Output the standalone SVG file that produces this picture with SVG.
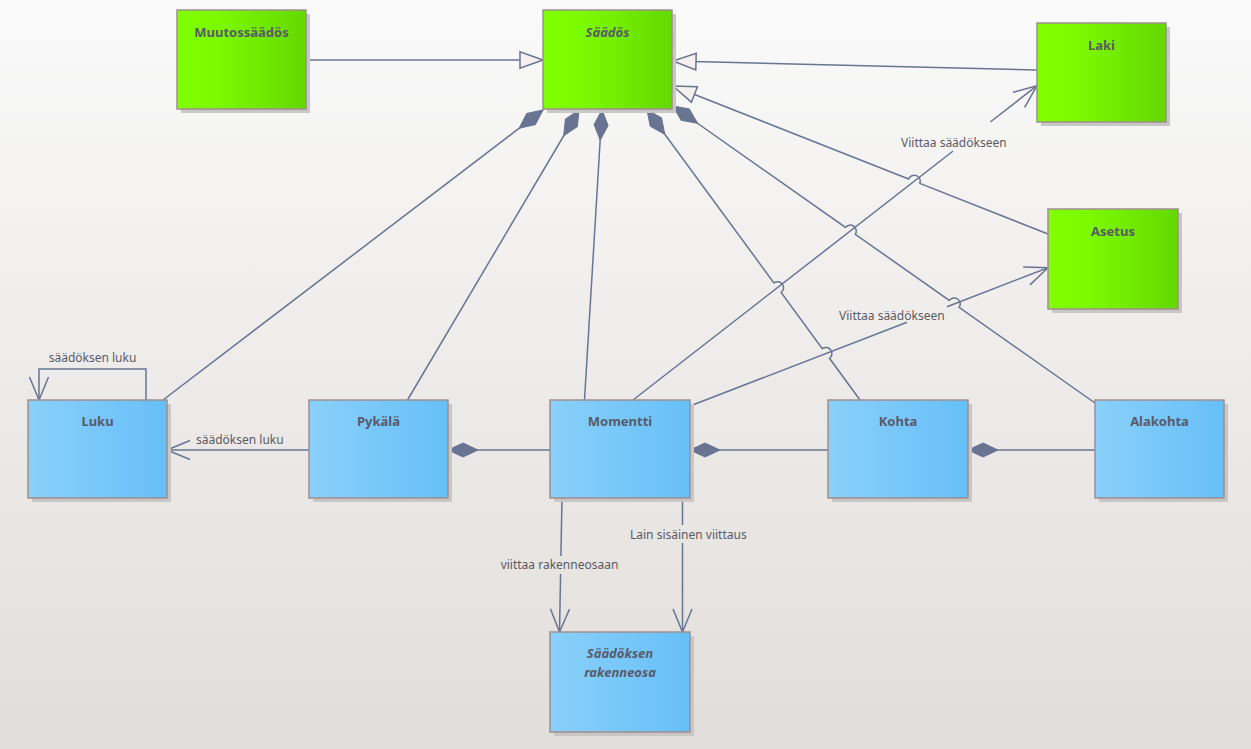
<svg xmlns="http://www.w3.org/2000/svg" width="1251" height="749" viewBox="0 0 1251 749">
<defs>
<linearGradient id="bg" x1="0" y1="0" x2="0" y2="1">
<stop offset="0" stop-color="#fafafa"/>
<stop offset="1" stop-color="#e1ddda"/>
</linearGradient>
<linearGradient id="green" x1="0" y1="0" x2="1" y2="0">
<stop offset="0" stop-color="#80ff00"/>
<stop offset="0.3" stop-color="#7cfb00"/>
<stop offset="1" stop-color="#64d800"/>
</linearGradient>
<linearGradient id="blue" x1="0" y1="0" x2="1" y2="0">
<stop offset="0" stop-color="#8ad0fa"/>
<stop offset="1" stop-color="#66bff8"/>
</linearGradient>
<marker id="tri" markerUnits="userSpaceOnUse" orient="auto-start-reverse" refX="0" refY="0" markerWidth="40" markerHeight="40" overflow="visible">
<path d="M0,0 L-23,-8.3 L-23,8.3 Z" fill="#f6f1ef" stroke="#687492" stroke-width="1.5"/>
</marker>
<marker id="dia" markerUnits="userSpaceOnUse" orient="auto" refX="0" refY="0" markerWidth="40" markerHeight="40" overflow="visible">
<path d="M0,0 L15,-7 L30,0 L15,7 Z" fill="#687492" stroke="#687492" stroke-width="1"/>
</marker>
<marker id="open" markerUnits="userSpaceOnUse" orient="auto" refX="0" refY="0" markerWidth="40" markerHeight="40" overflow="visible">
<path d="M-23,-9.5 L0,0 L-23,9.5" fill="none" stroke="#687492" stroke-width="1.5"/>
</marker>
</defs>
<style>
.shadow{fill:#c9c7c5}
.g{fill:url(#green);stroke:#a08e8e;stroke-width:1.5}
.b{fill:url(#blue);stroke:#a08e8e;stroke-width:1.5}
.t{font-family:"Noto Sans","DejaVu Sans",sans-serif;font-size:13px;font-weight:bold;fill:#5a5a68;text-anchor:middle}
.i{font-style:italic}
.c{fill:none;stroke:#687492;stroke-width:1.5}
.l{font-family:"Noto Sans","DejaVu Sans",sans-serif;font-size:12px;fill:#5a5a64}
</style>
<rect x="0" y="0" width="1251" height="749" fill="url(#bg)"/>

<g id="connectors">
<path class="c" d="M306,60 L543,60" marker-end="url(#tri)"/>
<path class="c" d="M1037,70 L673,61" marker-end="url(#tri)"/>
<path class="c" d="M673,86 L908.6,179 A6,6 0 0 1 919.8,183.4 L1048,234" marker-start="url(#tri)"/>
<path class="c" d="M543,110 L163,400" marker-start="url(#dia)"/>
<path class="c" d="M579,110 L407.5,400" marker-start="url(#dia)"/>
<path class="c" d="M602,110 L584.5,400" marker-start="url(#dia)"/>
<path class="c" d="M647,110 L773.9,282.9 A6,6 0 0 1 781.1,292.5 L822.3,348.7 A6,6 0 0 1 829.5,358.3 L860,400" marker-start="url(#dia)"/>
<path class="c" d="M673,106 L845.5,227.4 A6,6 0 0 1 855.3,234.3 L949.3,300.4 A6,6 0 0 1 959.1,307.4 L1095,403" marker-start="url(#dia)"/>
<path class="c" d="M633,400 L953.1,151 M990.3,122 L1037,85.7" marker-end="url(#open)"/>
<path class="c" d="M690,406 L907,322.2 M947,306.7 L1048,267.7" marker-end="url(#open)"/>
<path class="c" d="M448,450 L550,450" marker-start="url(#dia)"/>
<path class="c" d="M690,450 L828,450" marker-start="url(#dia)"/>
<path class="c" d="M968,450 L1095,450" marker-start="url(#dia)"/>
<path class="c" d="M309,450 L167,450" marker-end="url(#open)"/>
<path class="c" d="M146,400 L146,369 L39,369 L39,400" marker-end="url(#open)"/>
<path class="c" d="M562,499 L560.9,556 M560.6,574 L559.5,632" marker-end="url(#open)"/>
<path class="c" d="M682.5,499 L682.5,525 M682.5,543 L682.5,632" marker-end="url(#open)"/>
<text class="l" x="901" y="147">Viittaa säädökseen</text>
<text class="l" x="839" y="320">Viittaa säädökseen</text>
<text class="l" x="92.5" y="362" text-anchor="middle">säädöksen luku</text>
<text class="l" x="196" y="444">säädöksen luku</text>
<text class="l" x="559.5" y="569" text-anchor="middle">viittaa rakenneosaan</text>
<text class="l" x="630" y="539">Lain sisäinen viittaus</text>
</g>

<g id="muutossaados">
<rect class="shadow" x="181" y="14" width="129" height="99"/>
<rect class="g" x="177" y="10" width="129" height="99"/>
<text class="t" x="241.5" y="37">Muutossäädös</text>
</g>
<g id="saados">
<rect class="shadow" x="547" y="14" width="129" height="99"/>
<rect class="g" x="543" y="10" width="129" height="99"/>
<text class="t i" x="607.5" y="37">Säädös</text>
</g>
<g id="laki">
<rect class="shadow" x="1041" y="27" width="129" height="99"/>
<rect class="g" x="1037" y="23" width="129" height="99"/>
<text class="t" x="1101.5" y="50">Laki</text>
</g>
<g id="asetus">
<rect class="shadow" x="1052" y="213" width="130" height="100"/>
<rect class="g" x="1048" y="209" width="130" height="100"/>
<text class="t" x="1113" y="236">Asetus</text>
</g>
<g id="luku">
<rect class="shadow" x="32" y="404" width="139" height="98"/>
<rect class="b" x="28" y="400" width="139" height="98"/>
<text class="t" x="97.5" y="426">Luku</text>
</g>
<g id="pykala">
<rect class="shadow" x="313" y="404" width="139" height="98"/>
<rect class="b" x="309" y="400" width="139" height="98"/>
<text class="t" x="378.5" y="426">Pykälä</text>
</g>
<g id="momentti">
<rect class="shadow" x="554" y="404" width="140" height="98"/>
<rect class="b" x="550" y="400" width="140" height="98"/>
<text class="t" x="620" y="426">Momentti</text>
</g>
<g id="kohta">
<rect class="shadow" x="832" y="404" width="140" height="98"/>
<rect class="b" x="828" y="400" width="140" height="98"/>
<text class="t" x="898" y="426">Kohta</text>
</g>
<g id="alakohta">
<rect class="shadow" x="1099" y="404" width="129" height="98"/>
<rect class="b" x="1095" y="400" width="129" height="98"/>
<text class="t" x="1159.5" y="426">Alakohta</text>
</g>
<g id="saadoksen-rakenneosa">
<rect class="shadow" x="554" y="636" width="140" height="100"/>
<rect class="b" x="550" y="632" width="140" height="100"/>
<text class="t i" x="620" y="658">Säädöksen</text>
<text class="t i" x="620" y="677">rakenneosa</text>
</g>
</svg>
